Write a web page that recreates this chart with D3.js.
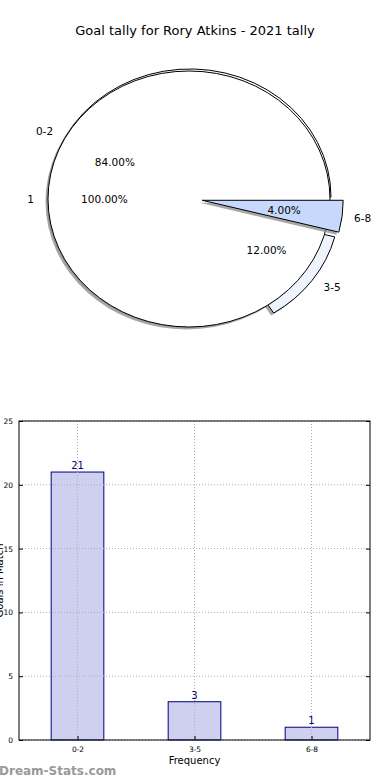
<!DOCTYPE html>
<html>
<head>
<meta charset="utf-8">
<script src="https://cdn.jsdelivr.net/npm/d3@7"></script>
<style>
  body { margin: 0; background: #fff; }
  svg { display: block; font-family: "DejaVu Sans", sans-serif; }
</style>
</head>
<body>
<main></main>
<script>
      var title = "Goal tally for Rory Atkins - 2021 tally";
      var pieCats = ["0-2", "3-5", "6-8"];
      var pieVals = [21, 3, 1];
      var pieExplode = [0, 0.08, 0.08];
      var pieColors = ["#ffffff", "#eef3fd", "#c6d9fd"];
      var outerCats = ["1"];
      var outerVals = [25];

      var barCats = ["0-2", "3-5", "6-8"];
      var barVals = [21, 3, 1];
      var yTicks = [0, 5, 10, 15, 20, 25];

      var w = 390, h = 780;
      var svg = d3.select("main")
                  .append("svg")
                  .attr("width", w)
                  .attr("height", h);

      svg.append("text")
         .attr("x", 195)
         .attr("y", 35)
         .attr("text-anchor", "middle")
         .attr("font-size", 13)
         .text(title);

      // ---- pie (ellipse, matplotlib style angles) ----
      var cx = 189, cy = 199, rx = 141, ry = 128;
      var pie = d3.pie().sort(null).startAngle(Math.PI / 2).endAngle(Math.PI / 2 - 2 * Math.PI);
      var arc = d3.arc().innerRadius(0).outerRadius(1);
      var total = d3.sum(pieVals);
      var slices = pie(pieVals);
      var outerSlices = pie(outerVals);

      function mid(d) { return (d.startAngle + d.endAngle) / 2; }
      function offs(d, k) {
        var a = mid(d);
        return [k * rx * Math.sin(a), -k * ry * Math.cos(a)];
      }

      function drawSlice(g, d, i, color, sx, sy) {
        var o = offs(d, pieExplode[i] || 0);
        // shadow
        g.append("path")
         .attr("transform", "translate(" + (cx + o[0] - 2.5 + sx) + "," + (cy + o[1] + 2.5 + sy) + ") scale(" + rx + "," + ry + ")")
         .attr("d", arc(d))
         .attr("fill", "#8a8a8a")
         .attr("opacity", 0.75);
        g.append("path")
         .attr("transform", "translate(" + (cx + o[0] + sx) + "," + (cy + o[1] + sy) + ") scale(" + rx + "," + ry + ")")
         .attr("d", arc(d))
         .attr("fill", color)
         .attr("stroke", "#000")
         .attr("stroke-width", 1)
         .attr("vector-effect", "non-scaling-stroke");
      }

      var pg = svg.append("g");
      // 0-2 and 3-5 underneath
      drawSlice(pg, slices[0], 0, pieColors[0], 1, -2);
      drawSlice(pg, slices[1], 1, pieColors[1], 0, 0);
      // full pie on top
      drawSlice(pg, outerSlices[0], -1, "#ffffff", 0, 0);
      // 6-8 on top
      drawSlice(pg, slices[2], 2, pieColors[2], 2, 0);

      function labelAt(d, i, k, txt, anchorByside) {
        var e = offs(d, pieExplode[i] || 0);
        var a = mid(d);
        var x = cx + e[0] + k * rx * Math.sin(a);
        var y = cy + e[1] - k * ry * Math.cos(a);
        var anchor = "middle";
        if (anchorByside) anchor = Math.sin(a) < -1e-6 ? "end" : "start";
        pg.append("text")
          .attr("x", x)
          .attr("y", y)
          .attr("dy", "0.35em")
          .attr("text-anchor", anchor)
          .attr("font-size", 10.5)
          .text(txt);
      }

      slices.forEach(function(d, i) {
        labelAt(d, i, 1.1, pieCats[i], true);
        labelAt(d, i, 0.6, (d.value / total * 100).toFixed(2) + "%", false);
      });
      outerSlices.forEach(function(d, i) {
        labelAt(d, -1, 1.1, outerCats[i], true);
        labelAt(d, -1, 0.6, (d.value / d3.sum(outerVals) * 100).toFixed(2) + "%", false);
      });

      // ---- bar chart ----
      var bLeft = 19, bRight = 370, bTop = 421, bBottom = 740;
      var x = d3.scalePoint().domain(barCats).range([bLeft, bRight]).padding(0.5);
      var y = d3.scaleLinear().domain([0, 25]).range([bBottom, bTop]);
      var bw = x.step() * 0.45;

      var bg = svg.append("g");

      bg.selectAll("rect.bar")
        .data(barVals)
        .enter()
        .append("rect")
        .attr("x", function(d, i) { return x(barCats[i]) - bw / 2; })
        .attr("y", function(d) { return y(d); })
        .attr("width", bw)
        .attr("height", function(d) { return bBottom - y(d); })
        .attr("fill", "#ccccee")
        .attr("fill-opacity", 0.95)
        .attr("stroke", "#000080")
        .attr("stroke-width", 1);

      // grid over bars (matplotlib draws grid above)
      bg.selectAll("line.gx")
        .data(barCats)
        .enter()
        .append("line")
        .attr("x1", function(d) { return x(d); })
        .attr("x2", function(d) { return x(d); })
        .attr("y1", bTop).attr("y2", bBottom)
        .attr("stroke", "#b0b0b0")
        .attr("stroke-dasharray", "1,2");
      bg.selectAll("line.gy")
        .data(yTicks)
        .enter()
        .append("line")
        .attr("x1", bLeft).attr("x2", bRight)
        .attr("y1", function(d) { return y(d); })
        .attr("y2", function(d) { return y(d); })
        .attr("stroke", "#b0b0b0")
        .attr("stroke-dasharray", "1,2");

      bg.selectAll("text.val")
        .data(barVals)
        .enter()
        .append("text")
        .attr("x", function(d, i) { return x(barCats[i]); })
        .attr("y", function(d) { return y(d) - 3; })
        .attr("text-anchor", "middle")
        .attr("font-size", 10)
        .attr("fill", "#000066")
        .text(function(d) { return d; });

      // axes frame
      bg.append("rect")
        .attr("x", bLeft).attr("y", bTop)
        .attr("width", bRight - bLeft).attr("height", bBottom - bTop)
        .attr("fill", "none")
        .attr("stroke", "#000")
        .attr("stroke-width", 1);

      var yAxis = d3.axisLeft(y).tickValues(yTicks).tickSize(-4).tickPadding(6);
      bg.append("g")
        .attr("transform", "translate(" + bLeft + ",0)")
        .call(yAxis)
        .call(function(g) {
          g.select(".domain").remove();
          g.selectAll("text").attr("font-size", 7.5).attr("font-family", "DejaVu Sans");
        });
      var yAxisR = d3.axisRight(y).tickValues(yTicks).tickSize(-4).tickFormat("");
      bg.append("g")
        .attr("transform", "translate(" + bRight + ",0)")
        .call(yAxisR)
        .call(function(g) { g.select(".domain").remove(); });

      var xAxis = d3.axisBottom(x).tickSize(-4).tickPadding(7);
      bg.append("g")
        .attr("transform", "translate(0," + bBottom + ")")
        .call(xAxis)
        .call(function(g) {
          g.select(".domain").remove();
          g.selectAll("text").attr("font-size", 7.5).attr("font-family", "DejaVu Sans");
        });

      svg.append("text")
         .attr("x", (bLeft + bRight) / 2)
         .attr("y", 764)
         .attr("text-anchor", "middle")
         .attr("font-size", 10)
         .text("Frequency");

      svg.append("text")
         .attr("transform", "translate(3," + ((bTop + bBottom) / 2) + ") rotate(-90)")
         .attr("text-anchor", "middle")
         .attr("font-size", 10)
         .text("Goals in Match");

      svg.append("text")
         .attr("x", -1)
         .attr("y", 775)
         .attr("font-size", 12)
         .attr("font-weight", "bold")
         .attr("fill", "#999")
         .text("Dream-Stats.com");
</script>
</body>
</html>
